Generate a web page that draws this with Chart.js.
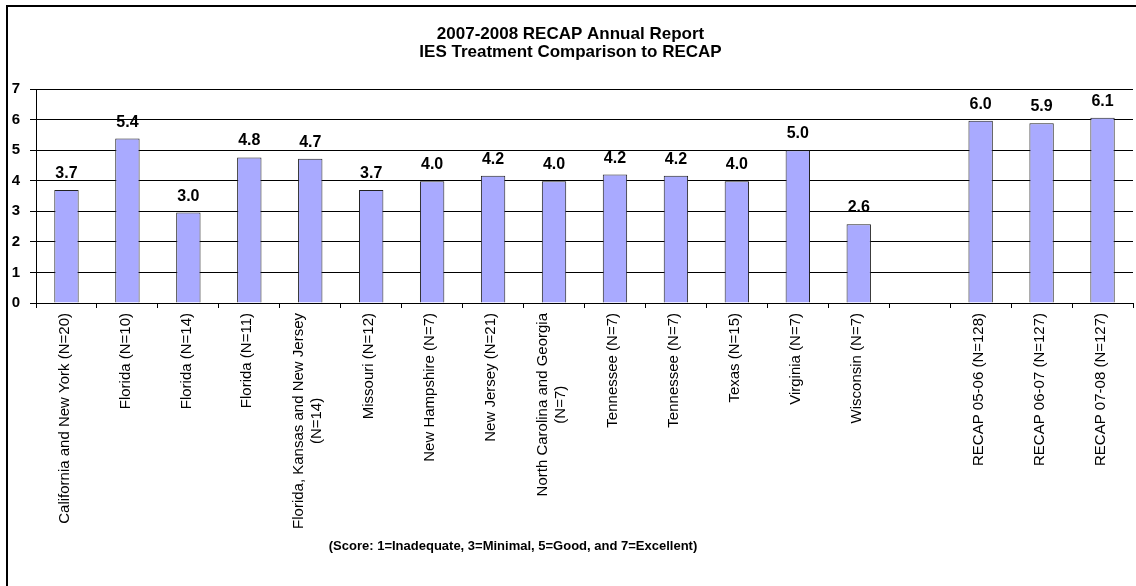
<!DOCTYPE html>
<html>
<head>
<meta charset="utf-8">
<title>2007-2008 RECAP Annual Report</title>
<script src="https://cdn.jsdelivr.net/npm/chart.js@4.4.0/dist/chart.umd.min.js"></script>
<style>
  html, body { margin: 0; padding: 0; background: #fff; overflow: hidden; }
  #frame {
    position: absolute; left: 6px; top: 5px;
    width: 1128px; height: 579px;
    border-left: 2px solid #000; border-top: 2px solid #000;
  }
</style>
</head>
<body>
<div id="frame"><canvas id="chart"></canvas></div>
<script>
// sites, one empty slot before the RECAP years
var sites = [
  'California and New York (N=20)',
  'Florida (N=10)',
  'Florida (N=14)',
  'Florida (N=11)',
  ['Florida, Kansas and New Jersey', '(N=14)'],
  'Missouri (N=12)',
  'New Hampshire (N=7)',
  'New Jersey (N=21)',
  ['North Carolina and Georgia', '(N=7)'],
  'Tennessee (N=7)',
  'Tennessee (N=7)',
  'Texas (N=15)',
  'Virginia (N=7)',
  'Wisconsin (N=7)',
  '',
  'RECAP 05-06 (N=128)',
  'RECAP 06-07 (N=127)',
  'RECAP 07-08 (N=127)'
];

var scores = [3.7, 5.38, 2.96, 4.76, 4.72, 3.7, 3.98, 4.16, 3.98, 4.2, 4.16, 3.98, 5.0, 2.58, null, 5.96, 5.88, 6.06];

var titleLines = ['2007-2008 RECAP Annual Report', 'IES Treatment Comparison to RECAP'];
var scoreNote = '(Score: 1=Inadequate, 3=Minimal, 5=Good, and 7=Excellent)';
var scoreMin = 0;
var scoreMax = 7;

var FONT = '"Liberation Sans", Arial, sans-serif';

// rotated category names under the x axis, lines centred on each other
var siteLabels = {
  id: 'siteLabels',
  afterDraw: function (chart) {
    var ctx = chart.ctx;
    var xs = chart.scales.x;
    var top = chart.chartArea.bottom + 10;
    ctx.save();
    ctx.font = '15px ' + FONT;
    ctx.fillStyle = '#000';
    ctx.textAlign = 'center';
    ctx.textBaseline = 'middle';
    sites.forEach(function (name, i) {
      var lines = Array.isArray(name) ? name : [name];
      if (!lines[0]) return;
      var w = Math.max.apply(null, lines.map(function (l) { return ctx.measureText(l).width; }));
      var lh = 18;
      var cx = xs.getPixelForValue(i) - 2;
      ctx.save();
      ctx.translate(cx - (lines.length - 1) * lh / 2, top + w / 2);
      ctx.rotate(-Math.PI / 2);
      lines.forEach(function (l, k) {
        ctx.fillText(l, 0, k * lh);
      });
      ctx.restore();
    });
    ctx.restore();
  }
};

// value above each bar
var barValues = {
  id: 'barValues',
  afterDatasetsDraw: function (chart) {
    var ctx = chart.ctx;
    var meta = chart.getDatasetMeta(0);
    ctx.save();
    ctx.font = 'bold 16px ' + FONT;
    ctx.fillStyle = '#000';
    ctx.textAlign = 'center';
    ctx.textBaseline = 'alphabetic';
    meta.data.forEach(function (bar, i) {
      var v = scores[i];
      if (v === null) return;
      ctx.fillText(v.toFixed(1), bar.x, bar.y - 12);
    });
    ctx.restore();
  }
};

var footNote = {
  id: 'footNote',
  afterDraw: function (chart) {
    var ctx = chart.ctx;
    ctx.save();
    ctx.font = 'bold 13px ' + FONT;
    ctx.fillStyle = '#000';
    ctx.textAlign = 'center';
    ctx.textBaseline = 'middle';
    ctx.fillText(scoreNote, chart.chartArea.left + 477, 539);
    ctx.restore();
  }
};

new Chart(document.getElementById('chart'), {
  type: 'bar',
  data: {
    labels: sites,
    datasets: [{
      data: scores,
      backgroundColor: '#A9AAFF',
      borderColor: '#222222',
      borderWidth: 1,
      barPercentage: 0.4,
      categoryPercentage: 1.0
    }]
  },
  options: {
    responsive: true,
    maintainAspectRatio: false,
    animation: false,
    devicePixelRatio: 1,
    layout: { padding: { left: 0, right: 3, top: 0, bottom: 278 } },
    plugins: {
      legend: { display: false },
      tooltip: { enabled: false },
      title: {
        display: true,
        text: titleLines,
        color: '#000',
        font: { family: FONT, size: 17, weight: 'bold', lineHeight: 1.03 },
        padding: { top: 19, bottom: 28 }
      }
    },
    scales: {
      x: {
        offset: true,
        ticks: { display: false },
        grid: { offset: true, drawOnChartArea: false, drawTicks: true, tickLength: 5, color: '#000' },
        border: { color: '#000', width: 1 }
      },
      y: {
        min: scoreMin,
        max: scoreMax,
        afterFit: function (scale) { scale.width = 28; },
        ticks: {
          stepSize: 1,
          padding: 10,
          color: '#000',
          font: { family: FONT, size: 15, weight: 'bold' }
        },
        grid: { color: '#000', lineWidth: 1, tickLength: 6 },
        border: { color: '#000', width: 1 }
      }
    }
  },
  plugins: [barValues, siteLabels, footNote]
});
</script>
</body>
</html>
